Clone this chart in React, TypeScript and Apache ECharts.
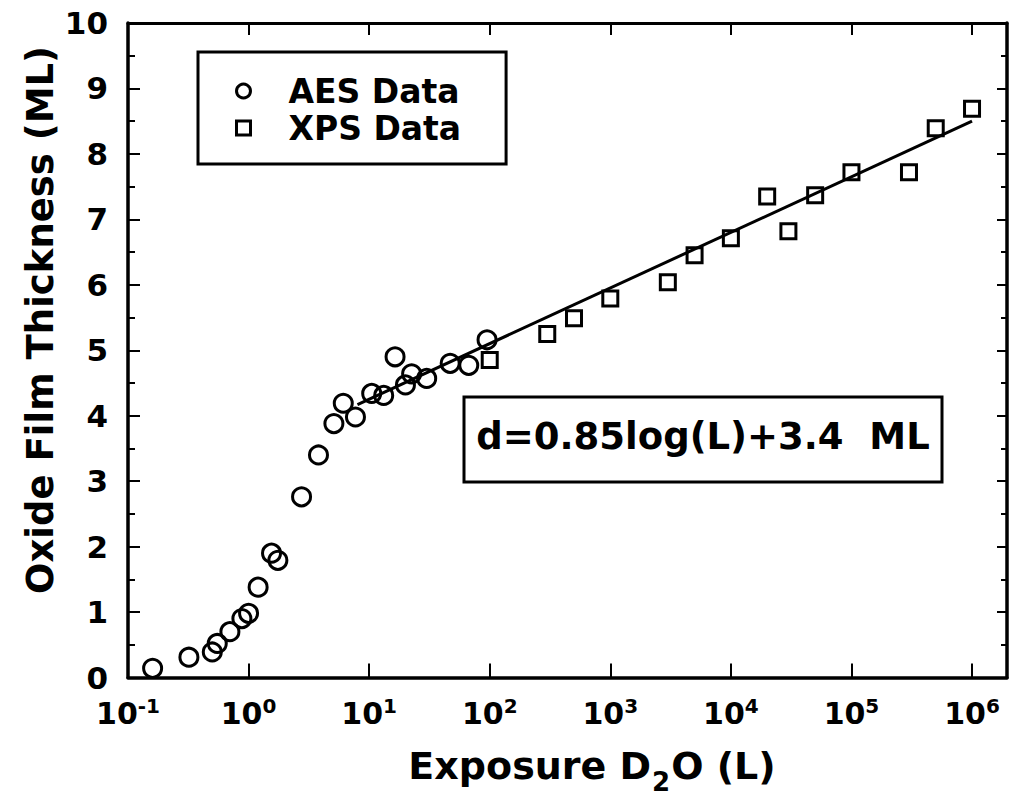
import React, { useEffect, useRef } from "react";
import * as echarts from "echarts";

// AES data (exposure in L, thickness in ML)
const aesExposure = [0.16, 0.32, 0.5, 0.55, 0.7, 0.88, 1.0, 1.2, 1.55, 1.75, 2.75, 3.8, 5.1, 6.1, 7.7, 10.5, 13.2, 16.4, 20, 22.5, 30, 47, 67, 95];
const aesThickness = [0.14, 0.31, 0.39, 0.52, 0.7, 0.9, 0.98, 1.38, 1.9, 1.79, 2.76, 3.4, 3.88, 4.19, 3.98, 4.34, 4.31, 4.9, 4.47, 4.64, 4.57, 4.8, 4.77, 5.16];

// XPS data
const xpsExposure = [100, 300, 500, 1000, 3000, 5000, 1e4, 2e4, 3e4, 5e4, 1e5, 3e5, 5e5, 1e6];
const xpsThickness = [4.85, 5.25, 5.49, 5.79, 6.04, 6.45, 6.71, 7.35, 6.82, 7.37, 7.72, 7.72, 8.39, 8.69];

// Fit line end points
const fitExposure = [8, 1e6];
const fitThickness = [4.17, 8.5];

const legendNames = ["AES Data", "XPS Data"];
const yTitle = "Oxide Film Thickness (ML)";
const xTitleParts = ["Exposure D", "2", "O (L)"];
const equationText = "d=0.85log(L)+3.4  ML";

const FONT = "'DejaVu Sans', sans-serif";

export default function App() {
  const ref = useRef<HTMLDivElement>(null);
  useEffect(() => {
    const chart = echarts.init(ref.current as HTMLDivElement, null, { renderer: "svg" });
    const toPairs = (xs: number[], ys: number[]) => xs.map((x, i) => [x, ys[i]]);
    const supLabel = (v: number) => `{b|10}{s|${Math.round(Math.log10(v))}}`;
    const markerStyle = { color: "rgba(0,0,0,0)", borderColor: "#000", borderWidth: 3, opacity: 1 };
    const option: any = {
      animation: false,
      backgroundColor: "#fff",
      grid: { left: 128, right: 5, top: 23, bottom: 124.5 },
      xAxis: [
        {
          type: "log",
          logBase: 10,
          min: 0.1,
          max: 1.95e6,
          position: "bottom",
          axisLine: { show: true, onZero: false, lineStyle: { color: "#000", width: 3.5 } },
          axisTick: { show: true, inside: true, length: 14, lineStyle: { color: "#000", width: 2 } },
          minorTick: { show: false },
          splitLine: { show: false },
          axisLabel: {
            margin: 18,
            showMaxLabel: false,
            formatter: supLabel,
            color: "#000",
            rich: {
              b: { fontSize: 30, fontWeight: "bold", fontFamily: FONT, color: "#000", lineHeight: 36 },
              s: { fontSize: 20, fontWeight: "bold", fontFamily: FONT, color: "#000", lineHeight: 12, verticalAlign: "top" },
            },
          },
        },
        {
          type: "log",
          logBase: 10,
          min: 0.1,
          max: 1.95e6,
          position: "top",
          axisLine: { show: true, onZero: false, lineStyle: { color: "#000", width: 3 } },
          axisTick: { show: true, inside: true, length: 12, lineStyle: { color: "#000", width: 2 } },
          axisLabel: { show: false },
          splitLine: { show: false },
        },
      ],
      yAxis: [
        {
          type: "value",
          min: 0,
          max: 10,
          interval: 1,
          position: "left",
          axisLine: { show: true, lineStyle: { color: "#000", width: 3.5 } },
          axisTick: { show: true, inside: true, length: 12, lineStyle: { color: "#000", width: 2 } },
          minorTick: { show: true, splitNumber: 2, length: 7, lineStyle: { color: "#000", width: 2 } },
          splitLine: { show: false },
          minorSplitLine: { show: false },
          axisLabel: { margin: 20, fontSize: 31, fontWeight: "bold", fontFamily: FONT, color: "#000" },
        },
        {
          type: "value",
          min: 0,
          max: 10,
          interval: 1,
          position: "right",
          axisLine: { show: true, lineStyle: { color: "#000", width: 3.5 } },
          axisTick: { show: true, inside: true, length: 10, lineStyle: { color: "#000", width: 2 } },
          minorTick: { show: true, splitNumber: 2, length: 6, lineStyle: { color: "#000", width: 2 } },
          splitLine: { show: false },
          axisLabel: { show: false },
        },
      ],
      legend: {
        data: [
          { name: legendNames[0], icon: "circle" },
          { name: legendNames[1], icon: "rect" },
        ],
        orient: "vertical",
        left: 198,
        top: 52,
        padding: [21, 45, 18, 37],
        itemGap: 1,
        itemWidth: 14,
        itemHeight: 14,
        borderColor: "#000",
        borderWidth: 3,
        backgroundColor: "#fff",
        selectedMode: false,
        itemStyle: markerStyle,
        textStyle: {
          fontSize: 33,
          fontWeight: "bold",
          fontFamily: FONT,
          color: "#000",
          lineHeight: 36,
          padding: [0, 0, 0, 33],
        },
      },
      graphic: [
        {
          type: "rect",
          shape: { x: 464, y: 397, width: 478, height: 85 },
          style: { fill: "#fff", stroke: "#000", lineWidth: 3 },
          z: 100,
        },
        {
          type: "text",
          x: 703,
          y: 436,
          z: 101,
          style: {
            text: equationText,
            fontSize: 37,
            fontWeight: "bold",
            fontFamily: FONT,
            fill: "#000",
            align: "center",
            verticalAlign: "middle",
          },
        },
        {
          type: "text",
          x: 40,
          y: 320,
          rotation: Math.PI / 2,
          style: {
            text: yTitle,
            fontSize: 37,
            fontWeight: "bold",
            fontFamily: FONT,
            fill: "#000",
            align: "center",
            verticalAlign: "middle",
          },
        },
        {
          type: "text",
          x: 592,
          y: 766,
          style: {
            text: `{a|${xTitleParts[0]}}{sub|${xTitleParts[1]}}{a|${xTitleParts[2]}}`,
            fill: "#000",
            align: "center",
            verticalAlign: "middle",
            rich: {
              a: { fontSize: 38, fontWeight: "bold", fontFamily: FONT, fill: "#000", verticalAlign: "middle" },
              sub: { fontSize: 26, fontWeight: "bold", fontFamily: FONT, fill: "#000", verticalAlign: "middle", padding: [32, 1, 0, 1] },
            },
          },
        },
      ],
      series: [
        {
          name: legendNames[0],
          type: "scatter",
          data: toPairs(aesExposure, aesThickness),
          symbol: "circle",
          symbolSize: 18,
          itemStyle: markerStyle,
          z: 3,
        },
        {
          name: legendNames[1],
          type: "scatter",
          data: toPairs(xpsExposure, xpsThickness),
          symbol: "rect",
          symbolSize: 15,
          itemStyle: markerStyle,
          z: 3,
        },
        {
          name: "Fit",
          type: "line",
          data: toPairs(fitExposure, fitThickness),
          symbol: "none",
          lineStyle: { color: "#000", width: 3 },
          z: 2,
        },
      ],
    };
    chart.setOption(option);
    return () => chart.dispose();
  }, []);
  return <div ref={ref} style={{ position: "fixed", left: 0, top: 0, width: 1012, height: 802 }} />;
}
